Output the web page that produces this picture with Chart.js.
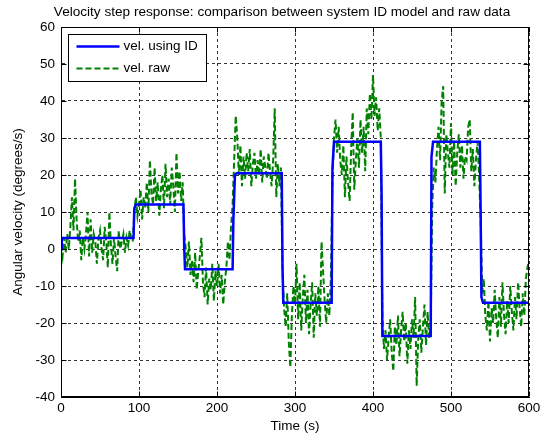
<!DOCTYPE html>
<html lang="en">
<head>
<meta charset="UTF-8">
<title>Velocity step response</title>
<style>
  body { margin: 0; background: #fff; }
  canvas { display: block; }
</style>
</head>
<body>
<canvas id="myChart" width="544" height="436"></canvas>
<script src="https://cdn.jsdelivr.net/npm/chart.js"></script>
<script>
// ---- data ----
const titleText = 'Velocity step response: comparison between system ID model and raw data';
const xTicks = [0, 100, 200, 300, 400, 500, 600];
const yTicks = [-40, -30, -20, -10, 0, 10, 20, 30, 40, 50, 60];

// system ID model (step levels), time in s / velocity in deg/s
const stepTime = [0, 1, 93, 94, 96, 157, 158, 159, 220, 221, 223, 225, 283, 284, 285,
                  347, 348, 350, 410, 411, 412, 474, 475, 477, 537, 538, 539, 541, 600];
const stepVel  = [0, 3, 3, 11, 12, 12, 0, -5.5, -5.5, 8, 20, 20.5, 20.5, -5, -14.5,
                  -14.5, 22, 29, 29, 15, -23.5, -23.5, 25, 29, 29, 10, -13, -14.5, -14.5];

// raw measurement, sampled every 2 s from t = 0
const rawStep = 2;
const rawVel = [
  1, -2, 3, -1, 4, 0, 6, 14, 5, 19,          // 0-18
  8, 2, 5, -3, 3, 0, 4, 10, -2, 8,           // 20-38
  -1, 4, 2, -4, 3, 5, 0, -3, 6, 2,           // 40-58
  -5, 10, 1, -4, 3, -2, -6, 5, 0, 2,         // 60-78
  4, -1, 3, 1, 5, 3, 2, 10, 14, 9,           // 80-98
  12, 16, 8, 14, 11, 18, 10, 24, 15, 12,     // 100-118
  22, 13, 18, 9, 16, 20, 11, 23, 14, 19,     // 120-138
  12, 22, 17, 10, 26, 15, 21, 13, 18, 4,     // 140-158
  0, -5, 2, -7, -3, -9, -1, -11, -6, -2,     // 160-178
  3, -9, -13, -5, -15, -8, -11, -4, -14, -6, // 180-198
  -10, -4, -12, -7, -15, -9, -5, 2, -3, 6,   // 200-218
  12, 24, 36, 30, 20, 28, 17, 25, 19, 26,    // 220-238
  21, 27, 17, 23, 26, 19, 24, 20, 27, 18,    // 240-258
  25, 22, 19, 26, 21, 17, 24, 38, 14, 23,    // 260-278
  17, 22, -6, -16, -21, -12, -25, -32, -18, -10, // 280-298
  -15, -4, -19, -9, -22, -13, -7, -20, -11, -23, // 300-318
  -15, -9, -24, -12, -18, -10, -21, 2, -6, -14,  // 320-338
  -20, -12, -18, -8, 18, 30, 35, 26, 33, 24,     // 340-358
  20, 28, 14, 25, 18, 13, 27, 37, 16, 24,    // 360-378
  30, 22, 35, 26, 33, 21, 38, 31, 42, 35,    // 380-398
  47, 36, 41, 32, 38, 30, -18, -27, -22, -30,    // 400-418
  -24, -19, -28, -33, -21, -26, -18, -29, -22, -17, // 420-438
  -25, -20, -31, -22, -27, -19, -24, -13, -37, -24, // 440-458
  -19, -28, -21, -15, -26, -17, -24, -20, 12, 22,   // 460-478
  18, 27, 33, 24, 40, 44, 15, 31, 26, 22,    // 480-498
  34, 20, 29, 17, 26, 31, 22, 28, 19, 25,    // 500-518
  24, 33, 35, 21, 27, 17, 24, 29, 20, 8,     // 520-538
  -12, -8, -18, -22, -14, -25, -16, -20, -11, -19, // 540-558
  -24, -13, -21, -9, -18, -23, -14, -20, -10, -17, // 560-578
  -22, -13, -19, -9, -16, -21, -12, -18, -8, -5,   // 580-598
  -3                                          // 600
];

// ---- chart ----
Chart.defaults.font.family = '"Liberation Sans", Arial, Helvetica, sans-serif';
Chart.defaults.font.size = 13.5;
Chart.defaults.color = '#000';

const FONT = '13.5px "Liberation Sans", Arial, Helvetica, sans-serif';
const TITLE_FONT = '13.6px "Liberation Sans", Arial, Helvetica, sans-serif';

// title drawn over the full canvas, like the figure title
const figTitle = {
  id: 'figTitle',
  afterDraw(chart) {
    const ctx = chart.ctx;
    ctx.save();
    ctx.font = TITLE_FONT;
    ctx.fillStyle = '#000';
    ctx.textAlign = 'center';
    ctx.textBaseline = 'middle';
    ctx.fillText(titleText, 282, 12);
    ctx.restore();
  }
};

// axes box with inward ticks
const axesFrame = {
  id: 'axesFrame',
  afterDatasetsDraw(chart) {
    const { ctx, chartArea: a, scales: { x, y } } = chart;
    const L = Math.round(a.left) + 0.5, R = Math.round(a.right) - 0.5;
    const T = Math.round(a.top) + 0.5, B = Math.round(a.bottom) - 0.5;
    ctx.save();
    ctx.strokeStyle = '#000';
    ctx.lineWidth = 1;
    ctx.setLineDash([]);
    ctx.strokeRect(L, T, R - L, B - T);
    ctx.beginPath();
    xTicks.forEach(function (v) {
      const p = Math.round(x.getPixelForValue(v)) + 0.5;
      ctx.moveTo(p, B); ctx.lineTo(p, B - 5);
      ctx.moveTo(p, T); ctx.lineTo(p, T + 5);
    });
    yTicks.forEach(function (v) {
      const p = Math.round(y.getPixelForValue(v)) + 0.5;
      ctx.moveTo(L, p); ctx.lineTo(L + 5, p);
      ctx.moveTo(R, p); ctx.lineTo(R - 5, p);
    });
    ctx.stroke();
    ctx.restore();
  }
};

// legend box inside the axes, top-left
const boxLegend = {
  id: 'boxLegend',
  afterDraw(chart) {
    const { ctx, chartArea: a } = chart;
    const bx = Math.round(a.left) + 7.5, by = Math.round(a.top) + 7.5;
    const bw = 138, bh = 47;
    ctx.save();
    ctx.fillStyle = '#fff';
    ctx.fillRect(bx, by, bw, bh);
    ctx.strokeStyle = '#000';
    ctx.lineWidth = 1;
    ctx.strokeRect(bx, by, bw, bh);
    ctx.font = FONT;
    ctx.textBaseline = 'middle';
    chart.data.datasets.forEach(function (ds, i) {
      const ly = by + 12 + i * 22;
      ctx.beginPath();
      ctx.strokeStyle = ds.borderColor;
      ctx.lineWidth = ds.borderWidth;
      ctx.setLineDash(ds.borderDash || []);
      ctx.moveTo(bx + 8, ly);
      ctx.lineTo(bx + 51, ly);
      ctx.stroke();
      ctx.setLineDash([]);
      ctx.fillStyle = '#000';
      ctx.fillText(ds.label, bx + 55, ly);
    });
    ctx.restore();
  }
};

const gridStyle = { color: 'rgba(0,0,0,0.8)', lineWidth: 1, drawTicks: false };
const borderStyle = { display: true, color: '#000', width: 1, dash: [3, 3] };

new Chart(document.getElementById('myChart'), {
  type: 'line',
  data: {
    datasets: [{
      label: 'vel. using ID',
      data: stepTime.map(function (t, i) { return { x: t, y: stepVel[i] }; }),
      borderColor: '#0000ff',
      borderWidth: 2.5,
      pointRadius: 0,
      tension: 0
    }, {
      label: 'vel. raw',
      data: rawVel.map(function (v, i) { return { x: i * rawStep, y: v }; }),
      borderColor: '#008000',
      borderWidth: 2,
      borderDash: [6, 3],
      pointRadius: 0,
      tension: 0
    }]
  },
  options: {
    responsive: false,
    animation: false,
    events: [],
    layout: { padding: { top: 27, right: 15, left: 0, bottom: 0 } },
    plugins: { legend: { display: false }, title: { display: false }, tooltip: { enabled: false } },
    scales: {
      x: {
        type: 'linear',
        min: 0, max: 600,
        afterBuildTicks: function (s) { s.ticks = xTicks.map(function (v) { return { value: v }; }); },
        afterFit: function (s) { s.height = 39; },
        ticks: { padding: 3, maxRotation: 0, autoSkip: false },
        grid: gridStyle,
        border: borderStyle,
        title: { display: true, text: 'Time (s)', padding: { top: 0, bottom: 2 } }
      },
      y: {
        type: 'linear',
        min: -40, max: 60,
        afterBuildTicks: function (s) { s.ticks = yTicks.map(function (v) { return { value: v }; }); },
        afterFit: function (s) { s.width = 61; },
        ticks: { padding: 6, autoSkip: false },
        grid: gridStyle,
        border: borderStyle,
        title: { display: true, text: 'Angular velocity (degrees/s)', padding: { top: 10, bottom: 0 } }
      }
    }
  },
  plugins: [axesFrame, boxLegend, figTitle]
});
</script>
</body>
</html>
